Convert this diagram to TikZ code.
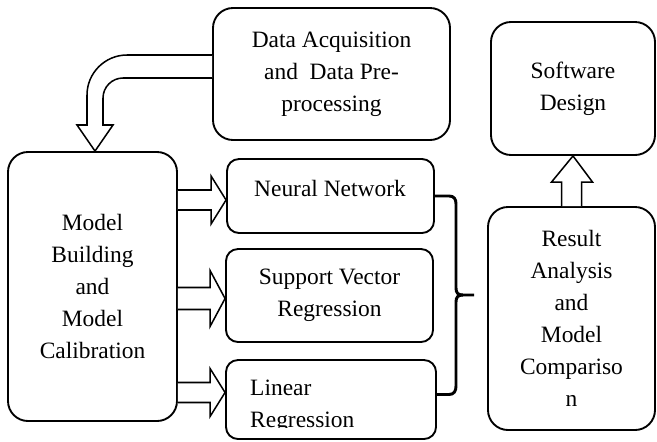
\documentclass[tikz,border=0pt]{standalone}
\usepackage{fontspec}
\setmainfont{Liberation Serif}
\usetikzlibrary{calc}

\begin{document}
\begin{tikzpicture}[
    x=0.03cm, y=-0.03cm,
    font=\fontsize{20pt}{27.3pt}\selectfont,
    stage/.style={rectangle, draw=black, line width=1.6pt, rounded corners=0.6cm, align=center, inner sep=0pt},
    method/.style={rectangle, draw=black, line width=1.6pt, rounded corners=0.36cm, align=center, inner sep=0pt},
    label_text/.style={align=center, inner sep=0pt},
    blockarrow/.style={draw=black, fill=white, line width=1.3pt, line join=miter},
    brace_line/.style={draw=black, line width=2.5pt}
]

% Canvas
\fill[white] (0,0) rectangle (657,441);

% Stages
\node[stage, minimum width=7.11cm, minimum height=3.96cm] (data) at (331.5,74) {Data Acquisition\\and\ \ Data Pre-\\processing};
\node[stage, minimum width=4.92cm, minimum height=3.99cm] (soft) at (573,88.5) {Software\\Design};
\node[stage, minimum width=5.07cm, minimum height=8.07cm] (model) at (92.5,286.5) {Model\\Building\\and\\Model\\Calibration};
\node[stage, minimum width=5.01cm, minimum height=6.69cm] (res) at (571.5,318.5) {Result\\Analysis\\and\\Model\\Compariso\\n};

% Methods
\node[method, minimum width=6.21cm, minimum height=2.22cm] (nn) at (330.5,196) {};
\node[label_text] (nn_text) at (330,188) {Neural Network};
\node[method, minimum width=6.21cm, minimum height=2.79cm] (svr) at (329.5,295.5) {Support Vector\\Regression};
\node[method, minimum width=6.3cm, minimum height=2.37cm] (lin) at (331,399.5) {};
\begin{scope}
    \clip (228,362) rectangle (434,427);
    \node[label_text, align=left, anchor=west] (lin_text) at (250,406) {Linear\\Regression};
\end{scope}

% Data to model
\coordinate (t0) at ($(model.north)+(2.5,0)$);
\draw[blockarrow] ($(data.west)+(0,-19)$) -- (127,55) .. controls (105,55) and (87,73) .. (87,95) -- (87,125) -- (77,125) -- (t0) -- (113,125) -- (103,125) -- (103,98) .. controls (103,87) and (112,78) .. (123,78) -- ($(data.west)+(0,4)$);

% Model to methods
\coordinate (t1) at ($(nn.west)+(0,4)$);
\coordinate (t2) at ($(svr.west)+(0,3)$);
\coordinate (t3) at ($(lin.west)+(0,-7)$);
\draw[blockarrow] ($(model.east |- t1)+(0,-10)$) -- ($(t1)+(-15,-10)$) -- ($(t1)+(-15,-24)$) -- (t1) -- ($(t1)+(-15,24)$) -- ($(t1)+(-15,10)$) -- ($(model.east |- t1)+(0,10)$);
\draw[blockarrow] ($(model.east |- t2)+(0,-11)$) -- ($(t2)+(-15,-11)$) -- ($(t2)+(-15,-28)$) -- (t2) -- ($(t2)+(-15,28)$) -- ($(t2)+(-15,11)$) -- ($(model.east |- t2)+(0,11)$);
\draw[blockarrow] ($(model.east |- t3)+(0,-10)$) -- ($(t3)+(-15,-10)$) -- ($(t3)+(-15,-24)$) -- (t3) -- ($(t3)+(-15,24)$) -- ($(t3)+(-15,10)$) -- ($(model.east |- t3)+(0,10)$);

% Brace
\draw[brace_line] (nn.east) -- (449,196) .. controls (454,196) and (456,199) .. (456,204) -- (456,288) .. controls (456,293) and (458,295) .. (463,295) -- (474,295);
\draw[brace_line] ($(lin.east)+(0,-5)$) -- (449,394.5) .. controls (454,394.5) and (456,391) .. (456,386) -- (456,302) .. controls (456,297) and (458,295) .. (463,295);

% Result to software
\draw[blockarrow] ($(res.north)+(-10,0)$) -- ($(res.north)+(-10,-24)$) -- ($(res.north)+(-20,-24)$) -- (soft.south) -- ($(res.north)+(21,-24)$) -- ($(res.north)+(10,-24)$) -- ($(res.north)+(10,0)$);

\end{tikzpicture}
\end{document}
